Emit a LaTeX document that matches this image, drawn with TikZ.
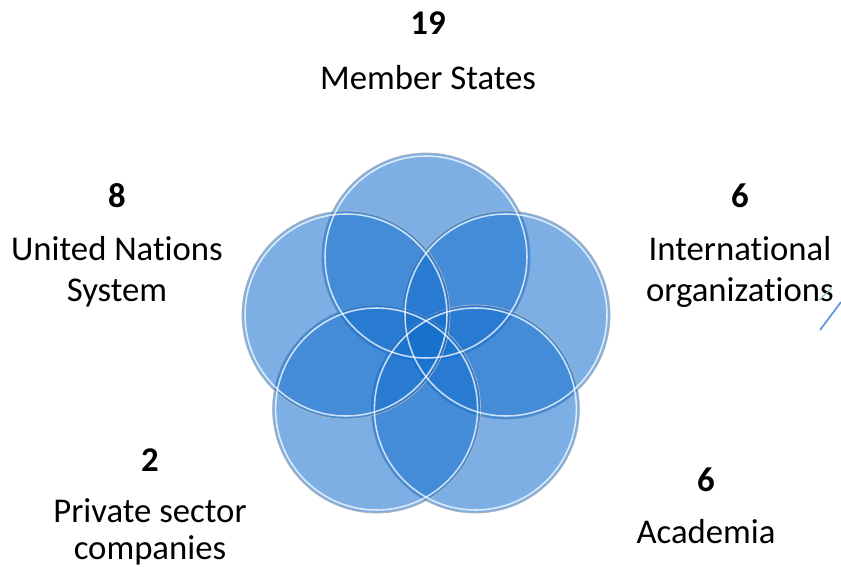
\documentclass[tikz,border=0pt]{standalone}
\usepackage{fontspec}
\setmainfont{Carlito}[Ligatures=NoCommon]
\usepackage{tikz}
\usetikzlibrary{calc}
\usetikzlibrary{positioning}

\definecolor{petalblue}{RGB}{20,110,205}
\definecolor{strayblue}{RGB}{90,150,220}
\definecolor{straygreen}{RGB}{140,200,170}

\tikzset{
  petal/.style={circle, minimum size=5.2cm, inner sep=0pt, fill=petalblue, fill opacity=0.55, draw=gray!60, line width=0.5pt},
  rim/.style={draw=white, line width=1.1pt, opacity=0.75},
  count/.style={anchor=base, font=\fontsize{24.7}{28.5}\selectfont\bfseries},
  group/.style={anchor=base, align=center, font=\fontsize{24.7}{28.5}\selectfont}
}

\begin{document}
\begin{tikzpicture}[x=0.025cm, y=-0.025cm]
      \useasboundingbox (0,0) rectangle (841,566);
      % the five overlapping circles
      \coordinate (hub) at (426,341);
      \node[petal] (ms) at ($(hub)+(0,-84)$) {};
      \node[petal] (io) at ($(hub)+(80,-26)$) {};
      \node[petal] (ac) at ($(hub)+(49.4,68)$) {};
      \node[petal] (ps) at ($(hub)+(-49.4,68)$) {};
      \node[petal] (un) at ($(hub)+(-80,-26)$) {};
      \foreach \c in {ms,io,ac,ps,un}
        \draw[rim] (\c.center) circle (101);
      % labels (base = last line)
      \node[count] (msn) at (428,34) {19};
      \node[group] (msl) at (428,89) {Member States};
      \node[count] (unn) at (117,207) {8};
      \node[group] (unl) at (117,301) {United Nations\\System};
      \node[count] (ion) at (740,207) {6};
      \node[group] (iol) at (740,301) {International\\organizations};
      \node[count] (psn) at (150,471) {2};
      \node[group] (psl) at (150,559) {Private sector\\[-2.8pt]companies};
      \node[count] (acn) at (706,491) {6};
      \node[group] (acl) at (706,543) {Academia};
      % cut-off strokes at the right edge
      \draw[strayblue, line width=1.2pt] (820,330) -- (841,302);
      \draw[straygreen, line width=0.8pt] (819,300) -- (832,288);
\end{tikzpicture}
\end{document}
